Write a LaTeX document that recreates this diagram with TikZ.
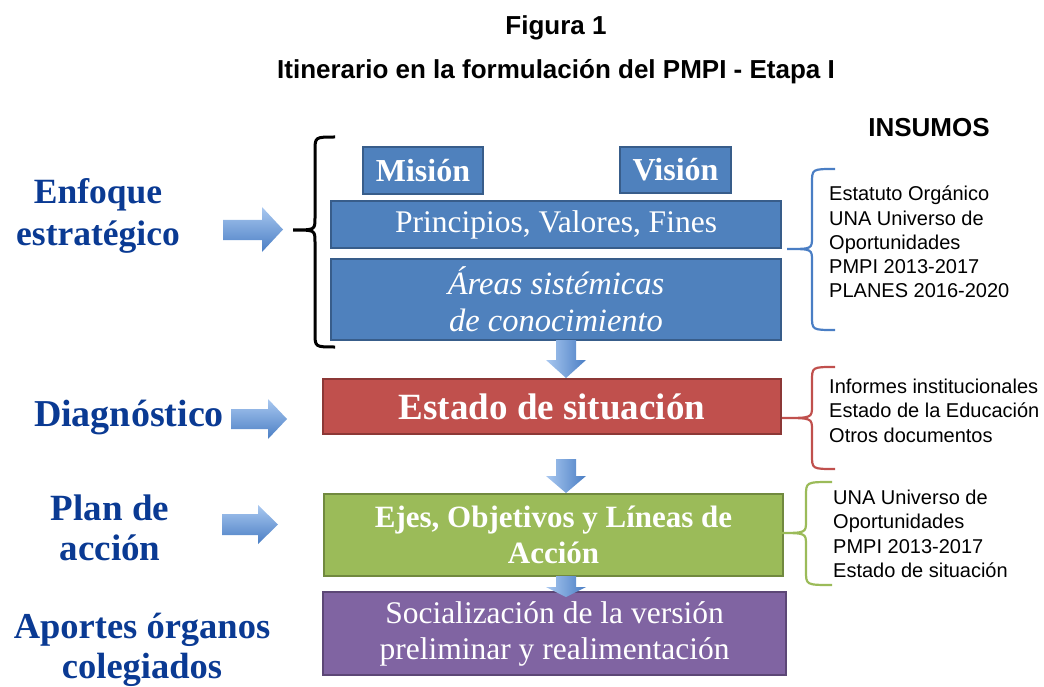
\documentclass[tikz,border=0pt]{standalone}
\usepackage{fontspec}
\setmainfont{Liberation Serif}
\newfontfamily\arialf{Liberation Sans}

\definecolor{boxblue}{HTML}{4F81BD}
\definecolor{edgeblue}{HTML}{385D8A}
\definecolor{boxred}{HTML}{C0504D}
\definecolor{edgered}{HTML}{8C3836}
\definecolor{boxgreen}{HTML}{9BBB59}
\definecolor{edgegreen}{HTML}{71893F}
\definecolor{boxpurple}{HTML}{8064A2}
\definecolor{edgepurple}{HTML}{5C4776}
\definecolor{labelblue}{HTML}{0A3A93}
\definecolor{arrowlight}{HTML}{A9C8F0}
\definecolor{arrowdark}{HTML}{4A7EC4}

% curly brace: end x, spine x, tip x, top y, tip y, bottom y
\newcommand{\curlybrace}[7][]{%
  \draw[#1] (#2,#5) .. controls (#3,#5) .. (#3,#5+14) -- (#3,#6-12)
    .. controls (#3,#6) .. (#4,#6) .. controls (#3,#6) .. (#3,#6+12)
    -- (#3,#7-14) .. controls (#3,#7) .. (#2,#7);}

\tikzset{
  stagebox/.style={draw, line width=1.6pt, inner sep=0pt, text=white, align=center,
    font=\fontsize{31.5}{37}\selectfont},
  bluebox/.style={stagebox, fill=boxblue, draw=edgeblue},
  redbox/.style={stagebox, fill=boxred, draw=edgered},
  greenbox/.style={stagebox, fill=boxgreen, draw=edgegreen},
  purplebox/.style={stagebox, fill=boxpurple, draw=edgepurple},
  stagelabel/.style={text=labelblue, align=center, font=\fontsize{36}{41}\selectfont\bfseries},
  sourcelist/.style={anchor=north west, inner sep=0pt, align=left, font=\arialf\fontsize{20}{24.2}\selectfont},
  titletext/.style={font=\arialf\fontsize{26}{30}\selectfont\bfseries},
  rightblock/.style={top color=arrowlight, bottom color=arrowdark, draw=none},
  downblock/.style={left color=arrowlight, right color=arrowdark, draw=none},
}

\begin{document}
\begin{tikzpicture}[x=1pt,y=-1pt]
\useasboundingbox (0,0) rectangle (1044,687);

% Titles
\node[titletext] (fig) at (556,28) {Figura 1};
\node[titletext] (title) at (556,72) {Itinerario en la formulación del PMPI - Etapa I};
\node[titletext] (insumos) at (929,128) {INSUMOS};

% Stage boxes
\node[bluebox, minimum width=120, minimum height=47, font=\fontsize{32}{37}\selectfont\bfseries] (mision) at (423,170.5) {Misión};
\node[bluebox, minimum width=111, minimum height=46, font=\fontsize{32}{37}\selectfont\bfseries] (vision) at (675.5,170) {Visión};
\node[bluebox, minimum width=450, minimum height=47] (principios) at (556,224.5) {Principios, Valores, Fines};
\node[bluebox, minimum width=450, minimum height=81, font=\fontsize{32.5}{37}\selectfont\itshape] (areas) at (556,299.5) {Áreas sistémicas\\de conocimiento};
\node[redbox, minimum width=458, minimum height=55, font=\fontsize{37}{40}\selectfont\bfseries] (estado) at (552,406.5) {Estado de situación};
\node[greenbox, minimum width=459, minimum height=82, font=\fontsize{31}{36}\selectfont\bfseries] (ejes) at (553.5,535) {Ejes, Objetivos y Líneas de\\Acción};
\node[purplebox, minimum width=463, minimum height=83, font=\fontsize{31.5}{36}\selectfont] (social) at (554.5,633.5) {Socialización de la versión\\preliminar y realimentación};

% Stage labels
\node[stagelabel, font=\fontsize{35.5}{42}\selectfont\bfseries] (enfoque) at (98,216) {Enfoque\\estratégico};
\node[stagelabel, font=\fontsize{38}{42}\selectfont\bfseries] (diagnostico) at (129,417) {Diagnóstico};
\node[stagelabel, font=\fontsize{37}{40}\selectfont\bfseries] (plan) at (110,528) {Plan de\\acción};
\node[stagelabel, font=\fontsize{36.5}{40}\selectfont\bfseries] (aportes) at (142,650) {Aportes órganos\\colegiados};

% Block arrows into the stages
\path[rightblock] (223,220) -- (262,220) -- (262,207) -- (283,229.5) -- (262,252) -- (262,240) -- (223,240) -- cycle;
\path[rightblock] (231,409) -- (268,409) -- (268,399) -- (287,419) -- (268,439) -- (268,429) -- (231,429) -- cycle;
\path[rightblock] (222,514) -- (258,514) -- (258,505) -- (278,524.5) -- (258,544) -- (258,535) -- (222,535) -- cycle;

% Block arrows between the stages
\path[downblock] (556,340) -- (576,340) -- (576,360) -- (586,360) -- (566,378) -- (546,360) -- (556,360) -- cycle;
\path[downblock] (556,459) -- (576,459) -- (576,476) -- (586,476) -- (566,493) -- (546,476) -- (556,476) -- cycle;
\path[downblock] (556,576) -- (576,576) -- (576,587) -- (586,587) -- (566,597) -- (546,587) -- (556,587) -- cycle;

% Braces
\curlybrace[line width=3pt]{335}{315}{293}{137}{230}{347}
\curlybrace[line width=2.2pt, color=arrowdark]{835}{812}{787}{169}{249}{330}
\curlybrace[line width=2.2pt, color=boxred]{835}{812}{782}{367}{418}{469}
\curlybrace[line width=2.2pt, color=boxgreen]{832}{806}{778}{482}{533}{585}

% Source lists
\node[sourcelist] (src1) at (829,186) {Estatuto Orgánico\\UNA Universo de\\Oportunidades\\PMPI 2013-2017\\PLANES 2016-2020};
\node[sourcelist] (src2) at (829,379) {Informes institucionales\\Estado de la Educación\\Otros documentos};
\node[sourcelist] (src3) at (833,490) {UNA Universo de\\Oportunidades\\PMPI 2013-2017\\Estado de situación};

\end{tikzpicture}
\end{document}
